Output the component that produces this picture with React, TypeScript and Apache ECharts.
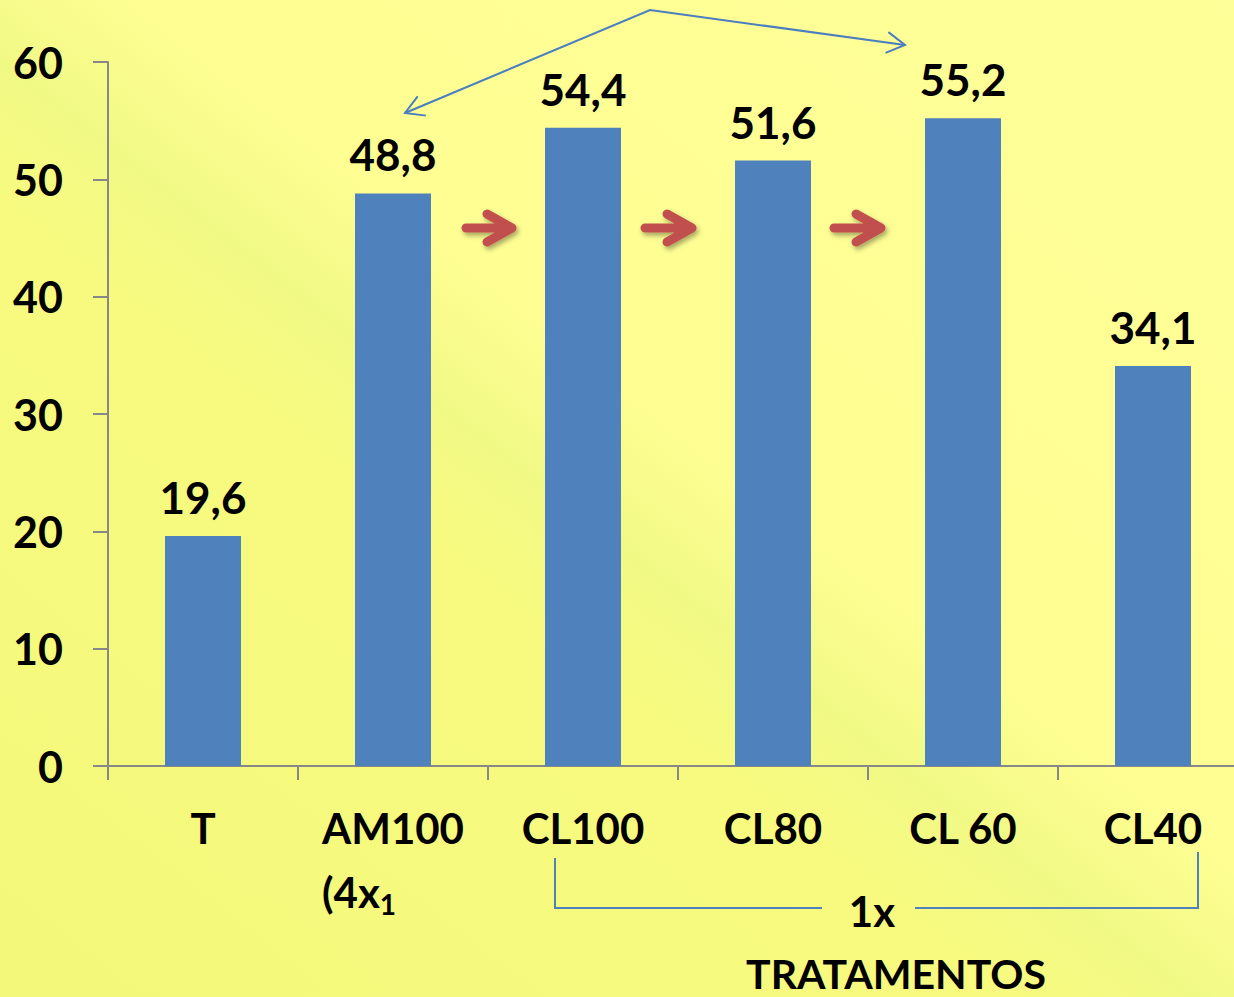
import React, { useEffect, useRef } from "react";
import * as echarts from "echarts";

const categories = ["T", "AM100", "CL100", "CL80", "CL 60", "CL40"];
const values = [19.6, 48.8, 54.4, 51.6, 55.2, 34.1];
const yTicks = { min: 0, max: 60, interval: 10 };
const axisTitle = "TRATAMENTOS";
const bracketText = "1x";

const FONT = "Lato, 'Open Sans', sans-serif";
const BLUE = "#4F81BD";
const RED = "#C0504D";

function arrowHead(tip: number[], from: number[], len: number) {
  const dx = from[0] - tip[0];
  const dy = from[1] - tip[1];
  const d = Math.hypot(dx, dy);
  const ux = dx / d, uy = dy / d;
  const c = Math.cos(Math.PI / 6), s = Math.sin(Math.PI / 6);
  const a = [tip[0] + len * (ux * c - uy * s), tip[1] + len * (ux * s + uy * c)];
  const b = [tip[0] + len * (ux * c + uy * s), tip[1] + len * (-ux * s + uy * c)];
  return [a, tip, b];
}

function redArrow(x0: number, tipX: number, y: number) {
  const x1 = tipX - 5;
  return {
    type: "polyline",
    shape: { points: [[x1 - 25, y - 14], [x1, y], [x1 - 25, y + 14], [x1, y], [x0 + 4, y]] },
    style: {
      stroke: RED,
      lineWidth: 9,
      lineCap: "round",
      lineJoin: "round",
      fill: "none",
      shadowBlur: 5,
      shadowOffsetX: 2,
      shadowOffsetY: 3,
      shadowColor: "rgba(0,0,0,0.35)",
    },
  };
}

export default function App() {
  const ref = useRef<HTMLDivElement>(null);
  useEffect(() => {
    const chart = echarts.init(ref.current!, null, { renderer: "svg" });
    const apex = [650, 10];
    const lTip = [405, 113];
    const rTip = [905, 45];
    const thin = () => ({ stroke: "#4A7EC0", lineWidth: 2, fill: "none" });
    chart.setOption({
      animation: false,
      backgroundColor: {
        type: "linear",
        x: 0,
        y: 1,
        x2: 1,
        y2: 0,
        colorStops: [
          { offset: 0, color: "#F3F87A" },
          { offset: 0.4, color: "#F7FA7F" },
          { offset: 0.47, color: "#F1F985" },
          { offset: 0.55, color: "#FEFE92" },
          { offset: 1, color: "#FFFF99" },
        ],
      },
      grid: { left: 108, top: 62, width: 1140, height: 704 },
      xAxis: {
        type: "category",
        data: categories,
        axisLine: { lineStyle: { color: "#888888", width: 2 } },
        axisTick: { show: true, length: 14, lineStyle: { color: "#888888", width: 2 } },
        axisLabel: {
          interval: 0,
          margin: 30,
          color: "#000",
          fontFamily: FONT,
          fontWeight: "bold",
          fontSize: 42,
          lineHeight: 64,
          formatter: (v: string) => (v === "AM100" ? "{l|AM100}\n{l|(4x}{sub|1}" : v),
          rich: {
            l: { fontFamily: FONT, fontWeight: "bold", fontSize: 42, lineHeight: 64, align: "left", color: "#000" },
            sub: { fontFamily: FONT, fontWeight: "bold", fontSize: 28, lineHeight: 64, align: "left", color: "#000", padding: [24, 0, 0, 0] },
          },
        },
      },
      yAxis: {
        type: "value",
        min: yTicks.min,
        max: yTicks.max,
        interval: yTicks.interval,
        splitLine: { show: false },
        axisLine: { show: true, lineStyle: { color: "#888888", width: 2 } },
        axisTick: { show: true, length: 15, lineStyle: { color: "#888888", width: 2 } },
        axisLabel: {
          margin: 45,
          color: "#000",
          fontFamily: FONT,
          fontWeight: "bold",
          fontSize: 43,
        },
      },
      series: [
        {
          type: "bar",
          data: values,
          barWidth: "40%",
          itemStyle: { color: BLUE },
          label: {
            show: true,
            position: "top",
            distance: 17,
            color: "#000",
            fontFamily: FONT,
            fontWeight: "bold",
            fontSize: 44,
            formatter: (p: any) => String(p.value).replace(".", ","),
          },
        },
      ],
      graphic: [
        { type: "polyline", shape: { points: [lTip, apex, rTip] }, style: thin() },
        { type: "polyline", shape: { points: arrowHead(lTip, apex, 21) }, style: thin() },
        { type: "polyline", shape: { points: arrowHead(rTip, apex, 21) }, style: thin() },
        redArrow(462, 517, 228),
        redArrow(641, 697, 228),
        redArrow(830, 886, 228),
        { type: "polyline", shape: { points: [[555, 858], [555, 908], [822, 908]] }, style: { stroke: BLUE, lineWidth: 2, fill: "none" } },
        { type: "polyline", shape: { points: [[915, 908], [1198, 908], [1198, 852]] }, style: { stroke: BLUE, lineWidth: 2, fill: "none" } },
        {
          type: "text",
          x: 872,
          y: 911,
          style: { text: bracketText, fill: "#000", font: `bold 42px ${FONT}`, textAlign: "center", textVerticalAlign: "middle" },
        },
        {
          type: "text",
          x: 896,
          y: 973,
          style: { text: axisTitle, fill: "#000", font: `bold 41px ${FONT}`, textAlign: "center", textVerticalAlign: "middle" },
        },
      ],
    });
    return () => chart.dispose();
  }, []);
  return (
    <div style={{ position: "absolute", left: 0, top: 0, width: 1234, height: 997, overflow: "hidden" }}>
      <div ref={ref} style={{ width: 1270, height: 997 }} />
    </div>
  );
}
